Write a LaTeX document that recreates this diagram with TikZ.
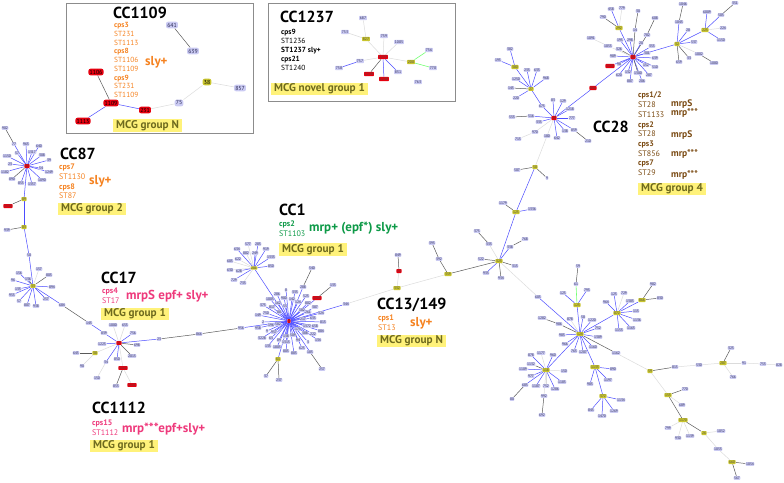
\documentclass[tikz,border=0pt]{standalone}
\usepackage{fontspec}
\setmainfont{PT Sans}
\usetikzlibrary{backgrounds}
\definecolor{ccorange}{HTML}{F58220}
\definecolor{ccpink}{HTML}{EE3A7C}
\definecolor{ccgreen}{HTML}{0E9A48}
\definecolor{ccbrown}{HTML}{7A4A12}
\definecolor{tagfill}{HTML}{FFF27A}
\definecolor{tagtext}{HTML}{6E6A1E}
\definecolor{stfill}{HTML}{CBCBF3}
\definecolor{stfont}{HTML}{2A2A55}
\definecolor{subfill}{HTML}{C9C52E}
\definecolor{redfill}{HTML}{E6000F}
\tikzset{
  st/.style={fill=stfill,text=stfont,rounded corners=.8pt,inner sep=.5pt,font=\fontsize{3.6}{4}\selectfont},
  sub/.style={st,fill=subfill,text=black!70,inner sep=.7pt},
  red/.style={st,fill=redfill,text=black!70,inner sep=.7pt},
  bigst/.style={st,rounded corners=2pt,inner sep=1.2pt,font=\fontsize{5.8}{6}\selectfont},
  bigred/.style={bigst,fill=redfill,text=black},
  bigsub/.style={bigst,fill=subfill,text=black},
  midst/.style={st,font=\fontsize{3.8}{4}\selectfont,inner sep=.8pt},
  midred/.style={midst,fill=redfill,text=black!70},
  midsub/.style={midst,fill=subfill,text=black!70},
  bllink/.style={draw=blue!70!white,line width=.5pt},
  dklink/.style={draw=black!65,line width=.5pt},
  gylink/.style={draw=black!14,line width=.5pt},
  gnlink/.style={draw=green!55!white,line width=.6pt},
  title/.style={anchor=west,inner sep=0pt,font=\fontsize{16}{17}\selectfont\bfseries},
  info/.style={anchor=north west,align=left,inner sep=0pt,font=\fontsize{8}{9.7}\selectfont},
  gene/.style={anchor=west,inner sep=0pt,font=\fontsize{13}{14}\selectfont\bfseries},
  genesm/.style={gene,font=\fontsize{9.5}{10}\selectfont\bfseries},
  tag/.style={anchor=west,fill=tagfill,text=tagtext,inner xsep=3pt,inner ysep=0pt,minimum height=12.5pt,font=\fontsize{11.2}{12}\selectfont\bfseries},
  panel/.style={draw=black!45,line width=.7pt},
}
% links are collected here and drawn once, under all the nodes
\gdef\linklist{}
\newcommand{\bridge}[3]{\xdef\linklist{\unexpanded\expandafter{\linklist}\noexpand\draw[#1] (#2) -- (#3);}}
% parent, then x/y/label/link of each node hanging from it
\newcommand{\leaves}[3][st]{\foreach \px/\py/\lbl/\lnk in {#3}{
  \node[#1] (#2-\lbl) at (\px,\py) {\lbl};
  \bridge{\lnk}{#2}{#2-\lbl}}}
\begin{document}
\begin{tikzpicture}[x=1pt,y=-1pt]
\useasboundingbox (0,0) rectangle (784,482);
% inset boxes
\draw[panel] (66,3) rectangle (253,133);
\draw[panel] (268,3) rectangle (455,101);
% CC1109
\node[bigred] (r1109) at (111,103) {1109};
\leaves[bigred]{r1109}{96/72/1106/dklink,83/121/1113/bllink,145/110/231/bllink}
\leaves[bigst]{r1109-231}{179/103/75/gylink}
\leaves[bigsub]{r1109-231-75}{207/82/38/gylink}
\leaves[bigst]{r1109-231-75-38}{240/88/857/gylink}
\node[bigst] (n641) at (172,25) {641};
\leaves[bigst]{n641}{193/51/639/dklink}
\node[title] (t1109) at (113,12.5) {CC1109};
\node[info,text=ccorange,font=\fontsize{7.4}{8.7}\selectfont] (i1109) at (114,22.5) {\textbf{cps3}\\ST231\\ST1113\\\textbf{cps8}\\ST1106\\ST1109\\\textbf{cps9}\\ST231\\ST1109};
\node[gene,text=ccorange] (g1109) at (145,62) {sly+};
\node[tag] (m1109) at (113,125.5) {MCG group N};
% CC1237
\node[midred] (r1237) at (383,57) {1237};
\leaves[midst]{r1237}{384/36/759/gylink,399/42/1005/gylink,360/61/757/gylink,398/72/831/bllink}
\leaves[midred]{r1237}{369/74/1238/dklink,384/79/1240/bllink}
\leaves[midsub]{r1237}{366/39/827/gylink,411/62/200/gylink}
\leaves[midst]{r1237-827}{363/18/687/gylink,345/32/753/gylink}
\leaves[midst]{r1237-757}{339/68/758/bllink}
\leaves[midst]{r1237-200}{429/50/756/gnlink,433/68/770/gnlink}
\node[midst] (n763) at (418,82) {763};
\node[title] (t1237) at (280,17) {CC1237};
\node[info,font=\fontsize{7.4}{8.9}\selectfont] (i1237) at (281,29.5) {\textbf{cps9}\\ST1236\\\textbf{ST1237 sly+}\\\textbf{cps21}\\ST1240};
\node[tag] (m1237) at (271,89) {MCG novel group 1};
% CC87
\node[red] (h87) at (27,166) {87};
\leaves{h87}{14/144/77/bllink,26/144/963/bllink,39/146/640/bllink,32/152/1317/bllink,42/155/308/bllink,49/160/39/bllink,41/168/54/bllink,49/172/1249/bllink,42/180/1090/bllink,32/184/1337/bllink,21/183/855/bllink,12/179/890/dklink,5/172/1182/bllink,10/164/23/bllink,7/156/1150/bllink,17/153/57/bllink}
\leaves{h87-77}{5/128/902/dklink}
\leaves[sub]{h87}{24/199/89/bllink}
\leaves[red]{h87-89}{8/206/1130/dklink}
\leaves[sub]{h87-89}{24/227/83/bllink}
\leaves{h87-89-83}{7/230/939/dklink,29/255/50/bllink}
\node[title] (t87) at (60,154) {CC87};
\node[info,text=ccorange] (i87) at (59,164) {\textbf{cps7}\\ST1130\\\textbf{cps8}\\ST87};
\node[gene,text=ccorange] (g87) at (89,181) {sly+};
\node[tag] (m87) at (58,209) {MCG group 2};
% CC17
\node[sub] (s33) at (33,286) {33};
\bridge{bllink}{h87-89-83-50}{s33}
\leaves{s33}{28/279/136/dklink,39/269/157/gylink,49/275/803/dklink,52/287/894/bllink,46/299/257/bllink,36/306/938/bllink,27/305/807/bllink,19/301/57/bllink,12/295/955/bllink,18/289/133/bllink,13/280/96/bllink,19/273/156/bllink,62/305/684/bllink}
\leaves{s33-684}{89/323/143/dklink}
\leaves{s33-684-143}{104/333/839/bllink}
\node[red] (h17) at (119,343) {17};
\bridge{bllink}{s33-684-143-839}{h17}
\leaves{h17}{113/325/1000/gylink,125/325/655/gylink,133/333/756/bllink,137/345/698/dklink,132/356/2013/dklink,117/359/850/bllink,106/362/34/bllink,102/344/1223/bllink,159/339/23/bllink}
\leaves{h17-34}{97/378/150/gylink}
\leaves[sub]{h17}{95/353/38/gylink}
\leaves{h17-38}{76/353/645/dklink,82/366/90/gylink}
\leaves[red]{h17}{123/368/1112/gylink}
\leaves{h17-1112}{116/386/853/dklink}
\leaves[red]{h17-1112}{132/385/1111/gylink}
\leaves{h17-23}{199/334/866/dklink}
\leaves{h17-23-866}{241/328/956/dklink}
\node[title] (t17) at (101,278) {CC17};
\node[info,text=ccpink] (i17) at (102,288) {\textbf{cps4}\\ST17};
\node[gene,text=ccpink] (g17) at (126,296) {mrpS epf+ sly+};
\node[tag] (m17) at (101,314) {MCG group 1};
% CC1112
\node[title] (t1112) at (92,408) {CC1112};
\node[info,text=ccpink] (i1112) at (92,420) {\textbf{cps15}\\ST1112};
\node[gene,text=ccpink] (g1112) at (122,429) {mrp***epf+sly+};
\node[tag] (m1112) at (90,446) {MCG group 1};
% CC1
\node[red] (h1) at (289,321) {1};
\bridge{bllink}{h17-23-866-956}{h1}
\leaves{h1}{286/290/8/bllink,295/292/333/bllink,277/294/286/bllink,284/298/900/bllink,292/299/142/bllink,306/296/523/bllink,270/299/1003/bllink,263/305/375/bllink,272/307/817/bllink,278/303/162/bllink,285/306/55/bllink,298/302/124/bllink,302/310/182/bllink,308/303/802/bllink,315/307/387/bllink,321/313/324/bllink,258/315/149/bllink,266/313/750/bllink,279/312/88/bllink,308/312/261/bllink,313/318/635/bllink,303/319/217/bllink,323/322/813/bllink,263/322/2/bllink,271/325/196/bllink,278/324/582/bllink,258/328/958/bllink,307/326/1372/bllink,315/326/658/bllink,321/331/884/bllink,267/331/9/bllink,274/332/957/bllink,298/329/174/bllink,305/333/388/bllink,313/334/222/bllink,262/338/3228/bllink,271/338/63/bllink,279/340/89/bllink,286/336/138/bllink,293/335/509/bllink,318/340/134/bllink,298/340/94/bllink,308/342/3/bllink,268/346/135/bllink,286/342/1313/bllink,277/347/1805/bllink,302/348/625/bllink,286/351/805/bllink,294/353/883/bllink,310/352/183/bllink,303/287/288/bllink,346/304/344/bllink}
\leaves{h1-183}{322/369/257/dklink}
\leaves{h1-288}{312/268/540/dklink}
\leaves[sub]{h1}{278/359/61/bllink}
\leaves{h1-61}{266/376/37/dklink,279/380/237/dklink}
\leaves[red]{h1}{317/298/1103/bllink}
\leaves{h1-1103}{333/285/133/dklink}
% CC1 sub-star above the main star
\node[sub,inner sep=.4pt] (s254) at (254,268) {201};
\bridge{bllink}{h1}{s254}
\leaves{s254}{248/244/577/gylink,258/244/283/bllink,266/249/919/bllink,271/257/1333/bllink,271/266/850/bllink,255/253/249/bllink,246/253/882/gylink,237/249/634/bllink,238/259/622/gylink,230/261/605/gylink,230/270/630/gylink,239/271/628/bllink,234/280/729/bllink,243/283/733/gylink}
\node[title] (t1) at (279,210) {CC1};
\node[info,text=ccgreen] (i1) at (279,221) {\textbf{cps2}\\ST1103};
\node[gene,text=ccgreen] (g1) at (309,228) {mrp+ (epf*) sly+};
\node[tag] (m1) at (279,249.5) {MCG group 1};
% CC13/149
\leaves[sub]{h1-344}{397/288/332/gylink}
\leaves[red]{h1-344-332}{399/271/13/gylink}
\leaves{h1-344-332-13}{398/255/849/dklink}
\leaves[sub]{h1-344-332}{448/274/359/gylink}
\leaves{h1-344-332-359}{439/259/392/dklink}
\leaves{h1-344-332-359-392}{432/243/393/dklink}
\node[title] (t13) at (377,305) {CC13/149};
\node[info,text=ccorange] (i13) at (378,315) {\textbf{cps1}\\ST13};
\node[gene,text=ccorange] (g13) at (410,323) {sly+};
\node[tag] (m13) at (377,341) {MCG group N};
% centre chain up to CC28
\node[sub] (h323) at (499,261) {323};
\bridge{dklink}{h1-344-332-359}{h323}
\leaves{h323}{481/259/522/dklink,486/273/933/bllink,501/278/934/dklink,515/266/313/dklink,510/247/338/bllink,489/244/333/gylink,538/297/605/gylink}
\leaves{h323-338}{525/239/768/dklink}
\leaves{h323-333}{477/231/375/dklink}
\leaves[sub]{h323}{516/212/125/bllink}
\leaves{h323-125}{503/203/1179/dklink,532/209/1336/bllink}
\leaves[sub]{h323-125}{535/167/50/bllink}
\leaves{h323-125-50}{517/170/507/dklink,547/178/9/dklink,547/136/180/gylink}
\node[red] (h29) at (554,118) {29};
\bridge{gylink}{h323-125-50-180}{h29}
\leaves{h29}{553/100/83/bllink,563/101/129/bllink,570/109/1218/bllink,572/118/777/bllink,565/131/138/bllink,557/138/642/bllink,574/130/859/bllink,539/122/335/bllink,531/116/516/bllink,542/106/675/bllink,535/132/970/gylink}
\leaves{h29-859}{588/141/210/dklink}
\leaves{h29-516}{512/117/553/dklink}
\leaves{h29-970}{518/139/713/gylink}
\node[sub] (h27) at (531,89) {27};
\bridge{bllink}{h29-675}{h27}
\leaves{h27}{527/70/233/bllink,537/70/633/bllink,546/78/968/bllink,516/79/1250/bllink,511/88/145/dklink,516/98/220/bllink}
\leaves[sub]{h27}{515/67/380/bllink}
\leaves{h27-380}{510/49/382/bllink,498/60/195/bllink}
\leaves[red]{h29}{593/88/856/bllink}
% CC28
\node[red] (h28) at (633,57) {28};
\bridge{bllink}{h29-856}{h28}
\leaves[red]{h28}{610/66/1133/bllink}
\leaves{h28}{635/30/14/dklink,647/35/782/dklink,620/40/195/bllink,630/40/298/bllink,641/43/20/bllink,652/46/355/bllink,647/53/301/bllink,655/58/639/bllink,646/65/152/bllink,655/67/510/bllink,649/75/287/bllink,642/81/206/bllink,638/73/1300/dklink,628/72/132/bllink,630/81/887/bllink,619/75/620/bllink,619/64/98/bllink,613/56/989/bllink,619/49/326/dklink,608/46/1055/gylink}
\leaves{h28-14}{638/11/30/dklink}
\leaves{h28-782}{655/18/608/dklink}
\leaves{h28-1055}{591/38/1091/gylink}
\leaves[sub]{h28}{619/28/292/bllink,677/44/32/bllink}
\leaves{h28-292}{611/9/458/bllink,622/8/779/gylink,603/17/790/dklink}
\leaves{h28-32}{679/22/1043/bllink,688/30/28/bllink,694/42/537/bllink,689/58/33/dklink,679/62/659/dklink,699/54/1002/gylink}
\leaves{h28-32-1043}{683/4/1046/dklink}
\leaves{h28-32-1002}{714/63/1080/dklink}
\leaves[sub]{h28-32}{705/30/223/bllink}
\leaves{h28-32-223}{707/12/6009/bllink,723/28/224/gylink,721/40/1150/bllink,721/15/503/bllink}
\leaves{h28-32-223-503}{735/3/351/dklink}
\node[title] (t28) at (593,127) {CC28};
\node[info,text=ccbrown] (i28) at (638,92) {\textbf{cps1/2}\\ST28\\ST1133\\\textbf{cps2}\\ST28\\\textbf{cps3}\\ST856\\\textbf{cps7}\\ST29};
\foreach \py/\lbl [count=\idx] in {104/mrpS,113/mrp***,135/mrpS,154/mrp***,175/mrp***}
  \node[genesm,text=ccbrown] (g28\idx) at (671,\py) {\lbl};
\node[tag] (m28) at (638,189) {MCG group 4};
% lower right tree
\node[sub] (h124) at (580,334) {124};
\bridge{bllink}{h323-605}{h124}
\leaves{h124}{583/317/58/bllink,592/320/1220/bllink,598/328/752/bllink,598/337/1389/bllink,593/347/1160/bllink,583/352/1207/bllink,574/351/763/bllink,565/344/966/bllink,562/335/983/bllink,559/324/986/dklink,570/319/878/gylink,616/353/1162/dklink}
\leaves{h124-986}{542/318/1282/dklink}
\leaves[sub]{h124}{577/305/123/bllink,617/313/872/bllink,595/367/1133/bllink,546/370/118/bllink}
\leaves{h124-123}{576/284/61/gnlink,563/293/125/bllink,587/290/793/bllink}
\leaves{h124-123-61}{578/266/59/dklink}
\leaves{h124-872}{614/294/123/bllink,624/293/729/gylink,606/302/964/bllink,630/301/1383/bllink,636/311/113/bllink,637/320/1136/bllink,631/328/1163/bllink,619/330/1153/bllink}
\leaves[sub]{h124-872}{642/300/866/bllink}
\leaves{h124-872-866}{653/284/982/dklink,660/298/830/dklink}
\leaves{h124-1133}{613/369/890/bllink,608/380/1197/bllink,590/384/983/bllink}
\leaves[sub]{h124-1133}{603/396/372/bllink}
\leaves{h124-1133-372}{621/400/1134/bllink,614/411/1269/bllink,602/416/1470/bllink,591/410/845/bllink}
\leaves{h124-118}{531/355/878/bllink,541/353/1177/gylink,553/355/960/bllink,531/364/1132/dklink,564/371/150/gylink,523/369/1109/bllink,531/376/977/bllink,562/382/1185/bllink,555/389/1286/bllink,546/386/752/gylink,536/386/1187/bllink,525/385/683/bllink,544/396/992/gylink}
\leaves{h124-118-683}{512/399/80/dklink}
\leaves{h124-118-992}{542/415/692/dklink}
\node[sub] (s59) at (650,371) {59};
\bridge{gylink}{h124-1162}{s59}
\leaves{s59}{675/367/815/dklink}
\leaves{s59-815}{699/365/530/gylink}
\node[sub] (s287) at (723,363) {287};
\bridge{gylink}{s59-815-530}{s287}
\leaves{s287}{731/348/323/dklink,733/377/766/gylink,744/363/91/gylink}
\leaves{s287-91}{763/364/753/gylink}
\leaves{s287-91-753}{779/365/828/gylink}
\node[sub] (s153) at (668,395) {153};
\bridge{gylink}{s59}{s153}
\leaves{s153}{685/389/770/dklink,682/405/689/gylink}
\node[sub] (s1170) at (683,420) {1170};
\bridge{dklink}{s153}{s1170}
\leaves{s1170}{668/428/799/gylink,678/438/930/gylink,690/436/1139/gylink}
\leaves[sub]{s1170}{704/433/26/dklink}
\leaves{s1170-26}{721/431/1052/gylink,718/449/1053/gylink}
\leaves[sub]{s1170-26-1053}{732/462/660/gylink}
\leaves{s1170-26-1053-660}{750/464/1054/dklink,737/478/567/dklink}
% all links, under the nodes
\begin{pgfonlayer}{background}
\linklist
\end{pgfonlayer}
\end{tikzpicture}
\end{document}
